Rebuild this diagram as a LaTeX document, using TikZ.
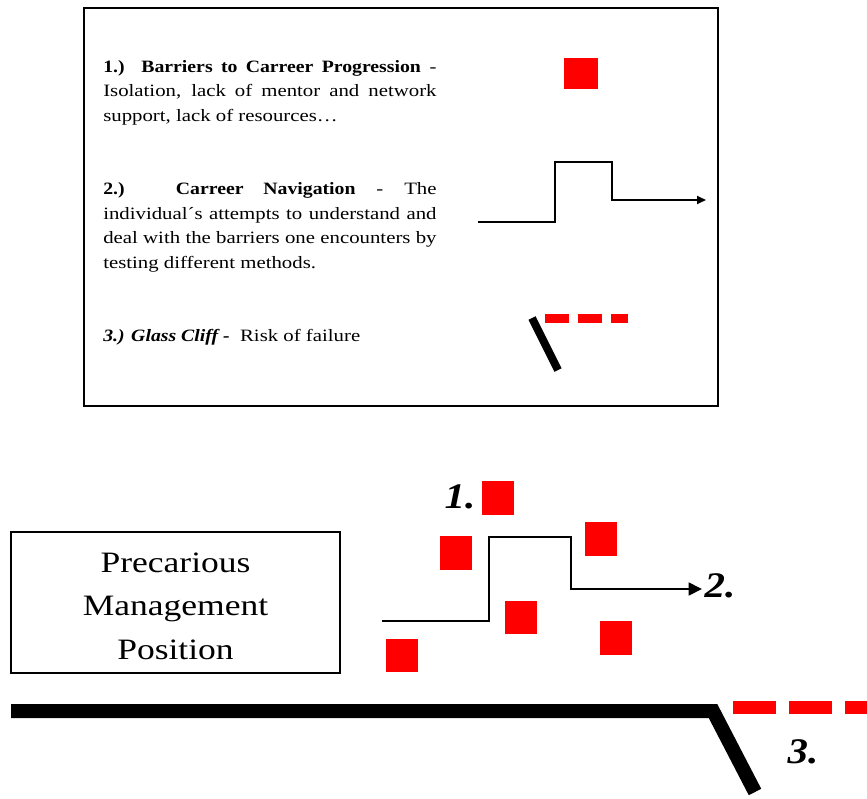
\documentclass[tikz,border=0pt]{standalone}
\usepackage{fontspec}
\setmainfont[FakeStretch=1.2,
    BoldFeatures={FakeStretch=1.14},
    BoldItalicFeatures={FakeStretch=1.14}]{Liberation Serif}
\usepackage{xcolor}
\usepackage{tikz}
\usetikzlibrary{arrows.meta}

\begin{document}
\begin{tikzpicture}[x=0.75pt, y=-0.75pt,
    redsq/.style={fill=red, inner sep=0pt, minimum width=24pt, minimum height=25pt},
    legendtext/.style={anchor=north west, inner sep=0pt, text width=250pt, align=justify,
        font=\fontsize{13}{18.4}\selectfont},
    numlabel/.style={inner sep=0pt, font=\fontsize{27}{30}\selectfont\bfseries\itshape}]

    \useasboundingbox (0,0) rectangle (867,799);

    %legend box
    \draw[line width=1.5pt] (84,8) rectangle (718,406);

    %legend texts
    \node[legendtext] (bartext) at (103,60) {\textbf{1.) Barriers to Carreer Progression} -\linebreak
        Isolation, lack of mentor and network\linebreak support, lack of resources…};
    \node[legendtext] (navtext) at (103,182.5) {\textbf{2.) Carreer Navigation} - The\linebreak
        individual´s attempts to understand and\linebreak
        deal with the barriers one encounters by\linebreak
        testing different methods.};
    \node[legendtext] (clifftext) at (103,329.5) {\textbf{\textit{3.) Glass Cliff -}}\ \ Risk of failure};

    %legend symbols
    \node[redsq, minimum height=23.25pt, minimum width=25.5pt] (barsym) at (580.5,73.5) {};
    \draw[line width=1.5pt, -{Triangle[length=6.75pt, width=6pt]}]
        (478,222) -- (555,222) -- (555,162) -- (612,162) -- (612,200) -- (706,200);
    \draw[red, line width=6.5pt, dash pattern=on 18pt off 6.75pt] (545,318.5) -- (628,318.5);
    \draw[line width=6pt] (532,318) -- (558,370);

    %position box
    \node[draw, line width=1.2pt, minimum width=246.75pt, minimum height=105.75pt] (position) at (175.5,602.5) {};
    \node[align=center, inner sep=0pt, font=\fontsize{22.2}{32.6}\selectfont] (postext) at (175.5,606)
        {Precarious\\Management\\Position};

    %barriers
    \foreach \i/\x/\y in {1/498/498, 2/456/553, 3/600.5/539, 4/520.5/617.5, 5/401.5/655.5, 6/616/638}
    \node[redsq] (sq\i) at (\x,\y) {};

    %career path
    \draw[line width=2pt, -{Triangle[length=10pt, width=9.5pt]}]
        (382,621) -- (489,621) -- (489,537) -- (571,537) -- (571,589) -- (702,589);

    %glass cliff
    \draw[line width=10.5pt] (11,711) -- (713,711) -- (755,792);
    \draw[red, line width=10pt, dash pattern=on 32.25pt off 9.75pt] (733,707.5) -- (867,707.5);

    %labels
    \node[numlabel] (one) at (460,497) {1.};
    \node[numlabel] (two) at (720,586) {2.};
    \node[numlabel] (three) at (803,752) {3.};

\end{tikzpicture}
\end{document}
